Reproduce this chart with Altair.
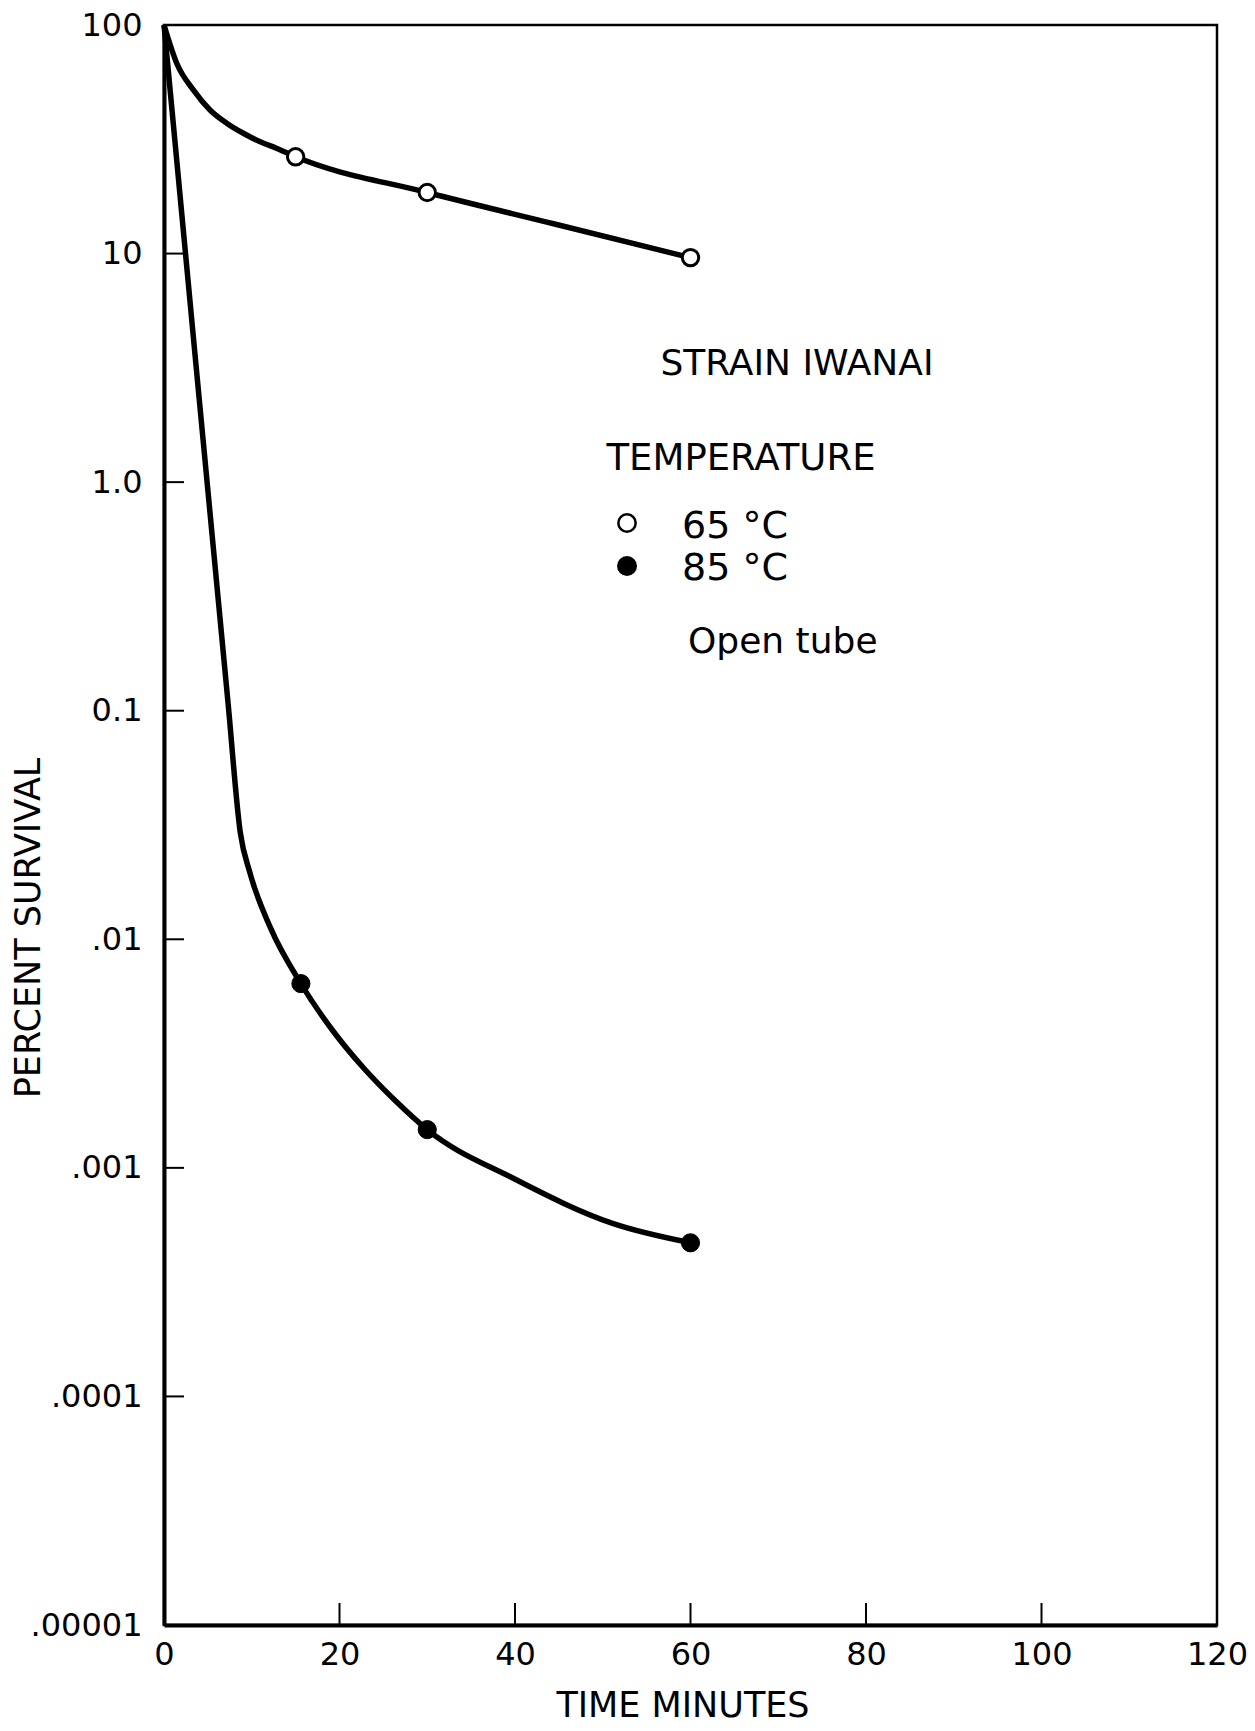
import altair as alt
import pandas as pd

# measured points, 65 °C (open circles)
t65 = [15, 30, 60]
s65 = [26.5, 18.5, 9.6]
# measured points, 85 °C (filled circles)
t85 = [15.6, 30, 60]
s85 = [0.0064, 0.00147, 0.00047]
# hand-drawn curves
c65_t = [0, 1.45, 3.34, 5.24, 7.14, 9.04, 10.9, 12.8, 15, 30, 44.4, 60]
c65_s = [100, 68, 52, 42.5, 37.2, 33.6, 30.9, 28.9, 26.5, 18.5, 13.5, 9.6]
c85_t = [0, 3.6, 7.3, 8.7, 9.8, 12.1, 15.6, 19.2, 22.8, 26.4, 30, 39.8, 51.2, 60]
c85_s = [100, 3.4, 0.108, 0.0292, 0.0195, 0.0113, 0.0064, 0.0040, 0.00272, 0.00196,
         0.00147, 0.0009, 0.00057, 0.00047]

x_ticks = [0, 20, 40, 60, 80, 100, 120]
x_inner_ticks = [20, 40, 60, 80, 100]
y_ticks = [100, 10, 1, 0.1, 0.01, 0.001, 0.0001, 0.00001]
y_labels = ["100", "10", "1.0", "0.1", ".01", ".001", ".0001", ".00001"]

W, H = 1053, 1600
FONT = "DejaVu Sans"

label_expr = ""
for v, l in zip(y_ticks, y_labels):
    label_expr += f"datum.value > {v / 3} ? '{l}' : "
label_expr += "''"

xscale = alt.Scale(domain=[0, 120], nice=False, zero=False)
yscale = alt.Scale(type="log", domain=[0.00001, 100], nice=False)
xaxis = alt.Axis(values=x_ticks, ticks=False, tickSize=0, grid=False, title=None,
                 labelPadding=14, labelFontSize=32, labelFont=FONT, labelColor="black",
                 domainColor="black", domainWidth=4, labelFlush=False)
yaxis = alt.Axis(values=y_ticks, ticks=False, tickSize=0, grid=False, title=None,
                 labelPadding=22, labelFontSize=32, labelFont=FONT, labelColor="black",
                 domainColor="black", domainWidth=4, labelExpr=label_expr, labelFlush=False)

def X(field):
    return alt.X(field, type="quantitative", scale=xscale, axis=xaxis)

def Y(field):
    return alt.Y(field, type="quantitative", scale=yscale, axis=yaxis)

curve65 = alt.Chart(pd.DataFrame({"t": c65_t, "s": c65_s})).mark_line(
    color="black", strokeWidth=5.5, interpolate="monotone").encode(x=X("t"), y=Y("s"))
curve85 = alt.Chart(pd.DataFrame({"t": c85_t, "s": c85_s})).mark_line(
    color="black", strokeWidth=5.5, interpolate="monotone").encode(x=X("t"), y=Y("s"))
pts65 = alt.Chart(pd.DataFrame({"t": t65, "s": s65})).mark_point(
    shape="circle", filled=True, fill="white", stroke="black", strokeWidth=3,
    size=270, opacity=1).encode(x=X("t"), y=Y("s"))
pts85 = alt.Chart(pd.DataFrame({"t": t85, "s": s85})).mark_point(
    shape="circle", filled=True, fill="black", stroke="black", strokeWidth=1,
    size=330, opacity=1).encode(x=X("t"), y=Y("s"))

ytick_rules = alt.Chart(pd.DataFrame({"v": y_ticks})).mark_rule(
    color="black", strokeWidth=2).encode(y=Y("v"), x=alt.value(0), x2=alt.value(20))
xtick_rules = alt.Chart(pd.DataFrame({"v": x_inner_ticks})).mark_rule(
    color="black", strokeWidth=2).encode(x=X("v"), y=alt.value(H - 22), y2=alt.value(H))

one = alt.Data(values=[{}])

def txt(text, x, y, size, align="left", angle=0):
    return alt.Chart(one).mark_text(text=text, font=FONT, fontSize=size, color="black",
                                    align=align, baseline="alphabetic", angle=angle
                                    ).encode(x=alt.value(x), y=alt.value(y))

ann = [
    txt("STRAIN IWANAI", 633, 350, 36, align="center"),
    txt("TEMPERATURE", 577, 445, 37, align="center"),
    txt("65 °C", 518, 513, 38),
    txt("85 °C", 518, 555, 38),
    txt("Open tube", 524, 628, 36),
    txt("TIME MINUTES", 519, 1692, 35, align="center"),
    txt("PERCENT SURVIVAL", -124, 903, 35, align="center", angle=270),
]
leg_open = alt.Chart(one).mark_point(shape="circle", filled=True, fill="white",
                                     stroke="black", strokeWidth=2.5, size=300, opacity=1
                                     ).encode(x=alt.value(463), y=alt.value(498))
leg_fill = alt.Chart(one).mark_point(shape="circle", filled=True, fill="black",
                                     size=400, opacity=1
                                     ).encode(x=alt.value(463), y=alt.value(541))

chart = alt.layer(curve65, curve85, ytick_rules, xtick_rules, pts65, pts85,
                  leg_open, leg_fill, *ann).properties(
    width=W, height=H,
    autosize=alt.AutoSizeParams(type="none"),
    padding={"left": 164, "top": 25, "right": 38, "bottom": 106},
    background="white",
).configure_view(stroke="black", strokeWidth=2.5)

chart.save("out.html", embed_options={"renderer": "svg", "actions": False})
